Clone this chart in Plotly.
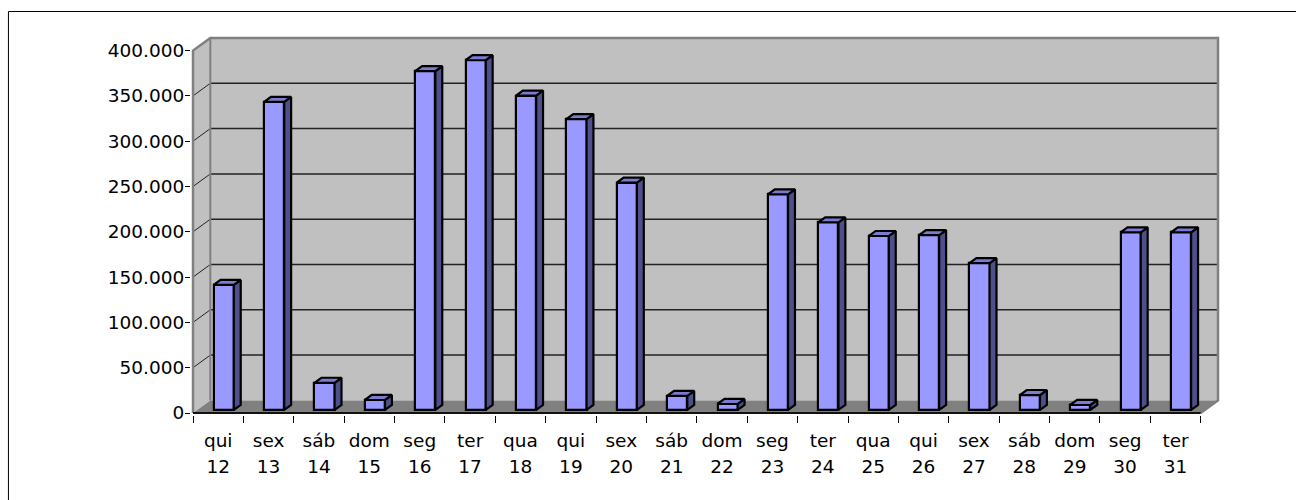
import plotly.graph_objects as go

# ---------------- data ----------------
weekdays = ["qui", "sex", "sáb", "dom", "seg", "ter", "qua", "qui", "sex", "sáb",
            "dom", "seg", "ter", "qua", "qui", "sex", "sáb", "dom", "seg", "ter"]
days = ["12", "13", "14", "15", "16", "17", "18", "19", "20", "21",
        "22", "23", "24", "25", "26", "27", "28", "29", "30", "31"]
values = [138000, 340000, 30000, 11000, 374000, 386000, 347000, 321000, 251000, 15500,
          6600, 238000, 207000, 192000, 193000, 162000, 16500, 5500, 196000, 196000]
y_ticks = [0, 50000, 100000, 150000, 200000, 250000, 300000, 350000, 400000]

# ---------------- geometry (3-D look) ----------------
n = len(values)
idx = list(range(n))
YMAX = y_ticks[-1]
PXX = 50.37                 # px per category
PXY = 362.4 / YMAX          # px per value unit
DX = 17.3 / PXX             # wall depth in category units
DY = 12.6 / PXY             # wall depth in value units
G = 0.24                    # depth fraction of the bar front face
F = 0.40                    # bar depth as fraction of wall depth
BW = 0.40                   # bar width (category units)
OFF = -0.09                 # bar left edge relative to category centre
PADX = 2 / PXX
PADY = 2 / PXY

base = G * DY
sdx, sdy = F * DX, F * DY

FRONT = "#9999ff"
SIDE = "#4f4f8c"
TOP = "#7b7bd2"
WALL = "#c0c0c0"
FLOOR = "#808080"
EDGE = "#808080"
FONT = dict(family="DejaVu Sans, Liberation Sans, Arial", size=18.5, color="black")

fig = go.Figure()

# front faces
fig.add_trace(go.Bar(
    x=idx, y=values, base=[base] * n, width=BW, offset=OFF,
    marker=dict(color=FRONT, line=dict(color="black", width=2.2)),
    hoverinfo="skip", showlegend=False,
))

# side and top faces
sx, sy, tx, ty = [], [], [], []
for i, v in zip(idx, values):
    x0 = i + OFF
    x1 = x0 + BW
    yt = base + v
    sx += [x1, x1 + sdx, x1 + sdx, x1, x1, None]
    sy += [base, base + sdy, yt + sdy, yt, base, None]
    tx += [x0, x0 + sdx, x1 + sdx, x1, x0, None]
    ty += [yt, yt + sdy, yt + sdy, yt, yt, None]

fig.add_trace(go.Scatter(x=sx, y=sy, mode="lines", fill="toself", fillcolor=SIDE,
                         line=dict(color="black", width=2.2), hoverinfo="skip", showlegend=False))
fig.add_trace(go.Scatter(x=tx, y=ty, mode="lines", fill="toself", fillcolor=TOP,
                         line=dict(color="black", width=2.2), hoverinfo="skip", showlegend=False))

# walls / floor
L, R = -0.5, n - 0.5
shapes = []
shapes.append(dict(type="rect", xref="x", yref="y", layer="below",
                   x0=L + DX, x1=R + DX, y0=DY, y1=YMAX + DY,
                   fillcolor=WALL, line=dict(width=0)))
shapes.append(dict(type="path", xref="x", yref="y", layer="below",
                   path=f"M {L},0 L {L+DX},{DY} L {L+DX},{YMAX+DY} L {L},{YMAX} Z",
                   fillcolor=WALL, line=dict(width=0)))
shapes.append(dict(type="path", xref="x", yref="y", layer="below",
                   path=f"M {L},0 L {R},0 L {R+DX},{DY} L {L+DX},{DY} Z",
                   fillcolor=FLOOR, line=dict(width=0)))
for v in y_ticks[1:-1]:
    shapes.append(dict(type="line", xref="x", yref="y", layer="below",
                       x0=L + DX, x1=R + DX, y0=v + DY, y1=v + DY,
                       line=dict(color="#222222", width=1.5)))
    shapes.append(dict(type="line", xref="x", yref="y", layer="below",
                       x0=L, x1=L + DX, y0=v, y1=v + DY,
                       line=dict(color="#222222", width=1)))
# wall borders
edge_path = (f"M {L},0 L {L},{YMAX} L {L+DX},{YMAX+DY} L {R+DX},{YMAX+DY} "
             f"L {R+DX},{DY} L {R},0")
shapes.append(dict(type="path", xref="x", yref="y", layer="below",
                   path=edge_path, line=dict(color=EDGE, width=2.5)))
shapes.append(dict(type="line", xref="x", yref="y", layer="below",
                   x0=L + DX, x1=L + DX, y0=DY, y1=YMAX + DY,
                   line=dict(color=EDGE, width=2)))
# front floor edge
shapes.append(dict(type="line", xref="x", yref="y", layer="above",
                   x0=L, x1=R, y0=0, y1=0, line=dict(color="#111111", width=2)))

# outer chart border
ml, mt = 191, 36
pw = (n + DX) * PXX + 4
ph = (YMAX + DY) * PXY + 4
mr = 1296 - ml - pw
mb = 500 - mt - ph
shapes.append(dict(type="rect", xref="paper", yref="paper", layer="above",
                   x0=(8.5 - ml) / pw, x1=(1310 - ml) / pw,
                   y0=(mt + ph - 515) / ph, y1=(mt + ph - 11.5) / ph,
                   line=dict(color="black", width=1), fillcolor="rgba(0,0,0,0)"))

fig.update_layout(
    width=1296, height=500,
    margin=dict(l=ml, r=mr, t=mt, b=mb, autoexpand=False),
    paper_bgcolor="white", plot_bgcolor="white",
    separators=",.",
    shapes=shapes,
    bargap=0,
    font=FONT,
    xaxis=dict(range=[L - PADX, R + DX + PADX], tickmode="array", tickvals=idx,
               ticktext=weekdays, ticks="", showgrid=False, zeroline=False,
               showline=False, tickfont=FONT, ticklabelstandoff=12,
               minor=dict(tickvals=[i - 0.5 for i in idx] + [n - 0.5], ticks="outside",
                          ticklen=7, tickwidth=1, tickcolor="black", showgrid=False)),
    xaxis2=dict(range=[L - PADX, R + DX + PADX], overlaying="x", anchor="y", side="bottom",
                tickmode="array", tickvals=idx, ticktext=days, ticks="",
                showgrid=False, zeroline=False, showline=False, tickfont=FONT,
                ticklabelstandoff=38),
    yaxis=dict(range=[-PADY, YMAX + DY + PADY], tickmode="array", tickvals=y_ticks,
               tickformat=",.0f", ticks="outside", ticklen=5, tickcolor="black",
               tickwidth=1, showgrid=False, zeroline=False, showline=False,
               tickfont=FONT, ticklabelstandoff=-3),
)
# invisible trace so xaxis2 renders its labels
fig.add_trace(go.Scatter(x=[0], y=[0], xaxis="x2", yaxis="y", mode="markers",
                         marker=dict(opacity=0), hoverinfo="skip", showlegend=False))

fig.write_html("out.html", config={"displayModeBar": False})

# remove the default page margin so the figure sits at the window origin
with open("out.html", "r", encoding="utf-8") as fh:
    html = fh.read()
html = html.replace("<body>", '<body style="margin:0;overflow:hidden">', 1)
with open("out.html", "w", encoding="utf-8") as fh:
    fh.write(html)
